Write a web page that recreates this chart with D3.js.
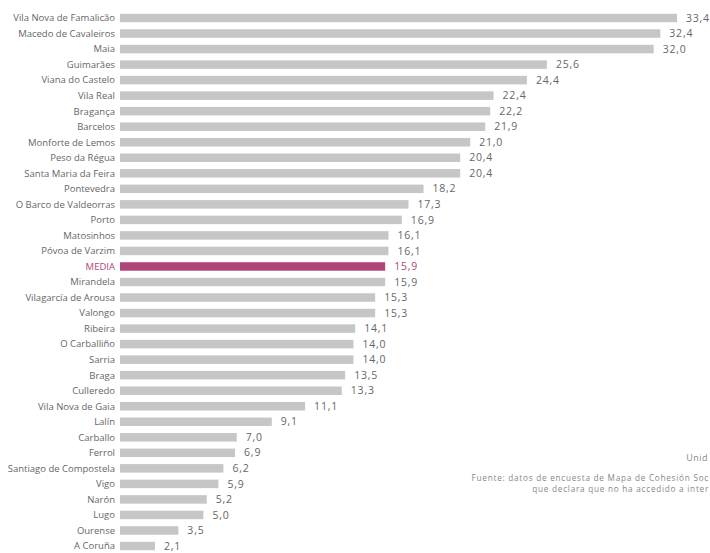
<!DOCTYPE html>
<html>
<head>
<meta charset="utf-8">
<script src="https://cdn.jsdelivr.net/npm/d3@7"></script>
<style>
  html, body { margin: 0; padding: 0; background: #fff; }
  svg { display: block; }
</style>
</head>
<body>
<svg id="chart" width="710" height="553"></svg>
<script>
const categories = [
  "Vila Nova de Famalicão", "Macedo de Cavaleiros", "Maia", "Guimarães",
  "Viana do Castelo", "Vila Real", "Bragança", "Barcelos", "Monforte de Lemos",
  "Peso da Régua", "Santa Maria da Feira", "Pontevedra", "O Barco de Valdeorras",
  "Porto", "Matosinhos", "Póvoa de Varzim", "MEDIA", "Mirandela",
  "Vilagarcía de Arousa", "Valongo", "Ribeira", "O Carballiño", "Sarria",
  "Braga", "Culleredo", "Vila Nova de Gaia", "Lalín", "Carballo", "Ferrol",
  "Santiago de Compostela", "Vigo", "Narón", "Lugo", "Ourense", "A Coruña"
];
const values = [
  33.4, 32.4, 32.0, 25.6, 24.4, 22.4, 22.2, 21.9, 21.0, 20.4, 20.4, 18.2, 17.3,
  16.9, 16.1, 16.1, 15.9, 15.9, 15.3, 15.3, 14.1, 14.0, 14.0, 13.5, 13.3, 11.1,
  9.1, 7.0, 6.9, 6.2, 5.9, 5.2, 5.0, 3.5, 2.1
];
const highlight = ["MEDIA"];
// notes as visible in the (right-cropped) reference
const unitText = ["Unid"];
const sourceLines = [
  "Fuente: datos de encuesta de Mapa de Cohesión Soc",
  "que declara que no ha accedido a inter"
];

const data = categories.map((c, i) => ({ name: c, value: values[i] }));
const svg = d3.select("#chart");

const x = d3.scaleLinear().domain([0, 33.4]).range([120, 677]);
const y = d3.scalePoint().domain(categories).range([18, 546]);
const barH = 8.5;

const grey = "#c6c6c6";
const magenta = "#b0457b";

const fmt = v => d3.format(".1f")(v).replace(".", ",");

// bars
svg.append("g").selectAll("rect").data(data).join("rect")
  .attr("x", x(0))
  .attr("y", d => y(d.name) - barH / 2)
  .attr("width", d => x(d.value) - x(0))
  .attr("height", barH)
  .attr("fill", d => highlight.includes(d.name) ? magenta : grey);

// category labels
svg.append("g").selectAll("text").data(data).join("text")
  .attr("x", 115)
  .attr("y", d => y(d.name))
  .attr("dy", "0.35em")
  .attr("text-anchor", "end")
  .attr("font-family", "Open Sans, sans-serif")
  .attr("font-size", 9.5)
  .attr("fill", d => highlight.includes(d.name) ? magenta : "#666")
  .text(d => d.name);

// value labels
svg.append("g").selectAll("text").data(data).join("text")
  .attr("x", d => x(d.value) + 9)
  .attr("y", d => y(d.name))
  .attr("dy", "0.35em")
  .attr("font-family", "Open Sans, sans-serif")
  .attr("font-size", 10.5)
  .attr("letter-spacing", 0.8)
  .attr("fill", d => highlight.includes(d.name) ? magenta : "#666")
  .text(d => fmt(d.value));

// unit and source notes
svg.append("text")
  .attr("x", 708).attr("y", 461)
  .attr("text-anchor", "end")
  .attr("font-family", "Open Sans, sans-serif")
  .attr("font-size", 9)
  .attr("letter-spacing", 0.5)
  .attr("fill", "#888")
  .text(unitText[0]);

svg.append("g").selectAll("text").data(sourceLines).join("text")
  .attr("x", 709)
  .attr("y", (d, i) => 481 + i * 11)
  .attr("text-anchor", "end")
  .attr("font-family", "Open Sans, sans-serif")
  .attr("font-size", 8.2)
  .attr("letter-spacing", 0.75)
  .attr("fill", "#888")
  .text(d => d);
</script>
</body>
</html>
